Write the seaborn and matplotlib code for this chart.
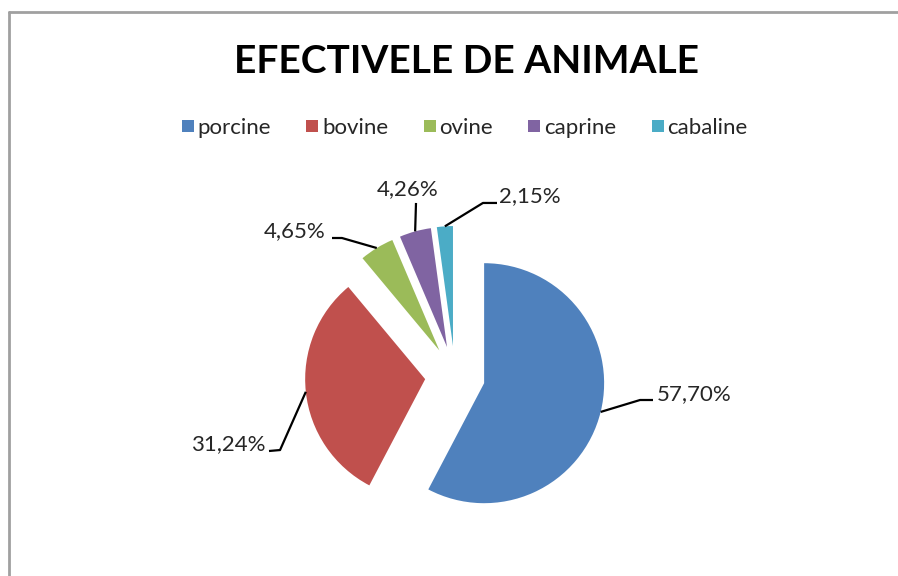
import matplotlib
matplotlib.use("Agg")
import matplotlib.pyplot as plt
import seaborn as sns
import numpy as np
from matplotlib.lines import Line2D

# --- data ---
categories = ['porcine', 'bovine', 'ovine', 'caprine', 'cabaline']
shares = [57.70, 31.24, 4.65, 4.26, 2.15]
colors = ['#4F81BD', '#C0504D', '#9BBB59', '#8064A2', '#4BACC6']
title = 'EFECTIVELE DE ANIMALE'

sns.set_style("white")
plt.rcParams['font.family'] = ['Lato', 'DejaVu Sans']

fig = plt.figure(figsize=(8.98, 5.76), dpi=100)
fig.patch.set_facecolor('white')

# chart frame (top and left border of the original chart object)
fig.add_artist(Line2D([9 / 898, 9 / 898], [0, 1 - 12 / 576], color='#a0a0a0', lw=2))
fig.add_artist(Line2D([9 / 898, 1], [1 - 12 / 576, 1 - 12 / 576], color='#a0a0a0', lw=2))

# axes: 1 data unit = 120 px, pie centre at (455, 376) px from top-left
ax = fig.add_axes([155 / 898, 7 / 576, 600 / 898, 386 / 576])
wedges, _ = ax.pie(shares, explode=[0.25] * len(shares), startangle=90,
                   counterclock=False, colors=colors, radius=1,
                   wedgeprops=dict(linewidth=0))
ax.set_xlim(-2.5, 2.5)
ax.set_ylim(-386 / 240, 386 / 240)
ax.set_aspect('equal')
ax.axis('off')

# leader lines: elbow points and text anchors (layout only)
layout = [
    dict(path=[(1.542, -0.2), (1.65, -0.2)], xy=(1.683, -0.15), ha='left'),
    dict(path=[(-1.458, -0.617), (-1.55, -0.625)], xy=(-1.575, -0.567), ha='right'),
    dict(path=[(-0.942, 1.15), (-1.025, 1.15)], xy=(-1.075, 1.208), ha='right'),
    dict(path=[(-0.325, 1.442)], xy=(-0.392, 1.558), ha='center'),
    dict(path=[(0.233, 1.442), (0.35, 1.442)], xy=(0.367, 1.5), ha='left'),
]

for w, v, lay in zip(wedges, shares, layout):
    mid = np.deg2rad((w.theta1 + w.theta2) / 2)
    cx, cy = w.center
    start = (cx + w.r * np.cos(mid), cy + w.r * np.sin(mid))
    pts = [start] + lay['path']
    ax.plot([p[0] for p in pts], [p[1] for p in pts], color='black', lw=1.6,
            solid_capstyle='butt', clip_on=False)
    ax.text(lay['xy'][0], lay['xy'][1], f"{v:.2f}%".replace('.', ','),
            ha=lay['ha'], va='center', fontsize=16, color='#262626')

# title
fig.text(467 / 898, 1 - 61.5 / 576, title, ha='center', va='center',
         fontsize=28, fontweight='bold', color='black')

# legend
handles = [Line2D([], [], marker='s', linestyle='', markersize=8.5,
                  markerfacecolor=c, markeredgewidth=0) for c in colors]
fig.legend(handles, categories, loc='center', bbox_to_anchor=(465 / 898, 1 - 128 / 576),
           ncol=5, frameon=False, fontsize=16, handlelength=0.5,
           handletextpad=0.2, columnspacing=1.6, labelcolor='#262626')

fig.savefig('out.png', dpi=100, facecolor='white')
